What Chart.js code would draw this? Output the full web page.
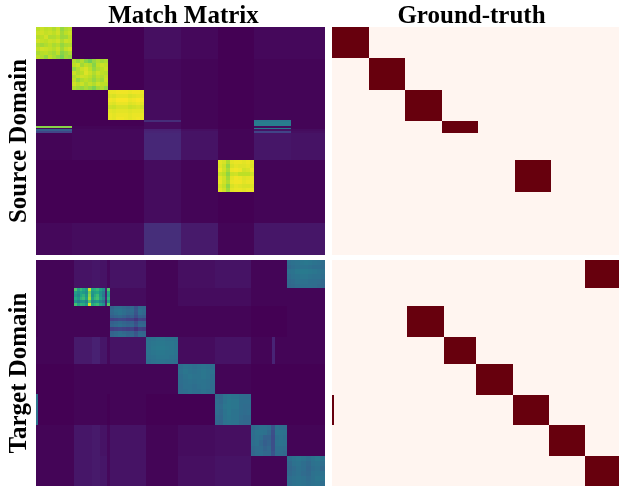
<!DOCTYPE html>
<html>
<head>
<meta charset="utf-8">
<title>Match Matrix</title>
<script src="https://cdn.jsdelivr.net/npm/chart.js@4/dist/chart.umd.min.js"></script>
<style>
  html, body { margin: 0; background: #fff; }
  #wrap { position: relative; width: 619px; height: 487px; overflow: hidden; }
  canvas { position: absolute; }
  #srcMatch { left: 0; top: 0; }
  #srcTruth { left: 332px; top: 0; }
  #tgtMatch { left: 0; top: 260px; }
  #tgtTruth { left: 332px; top: 260px; }
</style>
</head>
<body>
<div id="wrap">
  <canvas id="srcMatch" width="325" height="255"></canvas>
  <canvas id="srcTruth" width="287" height="255"></canvas>
  <canvas id="tgtMatch" width="325" height="226"></canvas>
  <canvas id="tgtTruth" width="287" height="226"></canvas>
</div>
<script>
// all sizes below are sample indices, 144 samples per axis
const SAMPLES = 144;

// source domain match scores (percent of the colour range)
const srcCols = [0, 18, 36, 54, 72, 90.5, 108.5, 127, 144];
const srcRows = [0, 20, 40, 59, 60, 62.5, 63.5, 64.5, 65.6, 66.8, 84, 104, 124, 144];
const srcScores = [
  [ 0,  0,  0,  4,  2,  0,  2,  2],
  [ 0,  0,  0,  2,  1,  0,  1,  1],
  [ 0,  0,  0,  3,  1,  0,  1,  1],
  [ 0,  0,  0, 13,  1,  0, 40,  1],
  [ 0,  0,  0,  3,  1,  0, 42,  1],
  [82,  1,  1,  3,  1,  0,  3,  1],
  [ 2,  1,  1,  3,  1,  0, 41,  1],
  [30,  2,  2,  9,  4,  1,  5,  3],
  [21,  2,  2, 10,  5,  1, 20,  4],
  [ 1,  2,  2, 11,  5,  1,  6,  5],
  [ 0,  0,  0,  3,  1,  0,  1,  1],
  [ 0,  0,  0,  3,  1,  0,  1,  1],
  [ 2,  3,  3, 13,  7,  1,  6,  6]
];

const srcBlockA = [
  [90, 92, 90, 91, 88, 92, 84, 88, 90],
  [92, 93, 91, 92, 90, 93, 86, 90, 92],
  [89, 90, 93, 88, 88, 90, 85, 86, 90],
  [93, 91, 90, 92, 91, 93, 88, 92, 91],
  [88, 86, 88, 90, 87, 89, 84, 87, 88],
  [91, 93, 92, 91, 89, 92, 86, 91, 93],
  [87, 89, 90, 88, 86, 90, 82, 85, 88],
  [90, 88, 84, 90, 87, 84, 80, 86, 84]
];
const srcBlockB = [
  [88, 84, 88, 82, 78, 84, 88, 86, 88],
  [90, 92, 86, 90, 88, 82, 90, 92, 91],
  [84, 88, 92, 94, 90, 84, 88, 90, 92],
  [92, 88, 90, 95, 92, 88, 92, 90, 89],
  [88, 91, 93, 92, 90, 86, 90, 88, 91],
  [90, 84, 88, 90, 88, 84, 88, 86, 92],
  [93, 90, 92, 88, 91, 88, 92, 90, 90],
  [88, 86, 84, 87, 84, 80, 86, 88, 84]
];
const srcBlockC = [
  [97, 97, 98, 98, 98, 97, 98, 98, 97],
  [95, 94, 96, 96, 96, 94, 95, 96, 96],
  [98, 97, 99, 99, 99, 97, 98, 99, 98],
  [96, 95, 97, 97, 97, 95, 96, 97, 96],
  [93, 92, 94, 94, 94, 92, 93, 94, 93],
  [96, 95, 96, 96, 96, 95, 96, 96, 96],
  [97, 96, 97, 97, 97, 96, 97, 97, 97],
  [97, 96, 98, 98, 97, 96, 97, 98, 97]
];
const srcBlockD = [
  [96, 94, 88, 96, 97, 97, 96, 97, 96],
  [95, 92, 84, 94, 96, 95, 95, 96, 95],
  [97, 93, 87, 97, 98, 97, 93, 94, 97],
  [92, 90, 83, 92, 93, 90, 90, 90, 93],
  [96, 93, 86, 96, 98, 97, 95, 96, 97],
  [97, 93, 88, 97, 98, 98, 96, 97, 97],
  [94, 91, 83, 94, 96, 95, 94, 94, 95],
  [96, 93, 86, 96, 97, 97, 96, 97, 97]
];
// [first row, last row, first col, last col, scores]
const srcBlocks = [
  [0, 20, 0, 18, srcBlockA],
  [20, 40, 18, 36, srcBlockB],
  [40, 59, 36, 54, srcBlockC],
  [84, 104, 90.5, 108.5, srcBlockD]
];

// target domain match scores
const tgtCols = [0, 1, 19, 28, 32, 35.4, 37, 55, 71, 89, 107, 117.5, 119, 125, 144];
const tgtRows = [0, 18, 29, 49, 66, 85.5, 105, 125, 144];
const tgtScores = [
  [1,  1,  5,  6,  5,  2,  5,  1,  4,  5,  1,  1,  1, 38],
  [1,  1,  5,  5,  5,  2,  3,  1,  3,  3,  1,  1,  1,  1],
  [0,  1,  1,  1,  1,  1, 36,  1,  1,  1,  0,  0,  0,  1],
  [1,  1,  7,  9,  6,  2,  5, 38,  3,  5,  1, 10,  1,  1],
  [0,  0,  1,  1,  1,  1,  1,  1, 38,  1,  0,  0,  0,  0],
  [38, 0,  1,  1,  1,  0,  1,  0,  0, 38,  0,  0,  0,  0],
  [1,  1,  6,  7,  5,  2,  5,  1,  3,  4, 36, 30, 36,  1],
  [1,  1,  6,  7,  6,  2,  5,  1,  4,  5,  1,  1,  1, 38]
];

const tgtBlockA = [
  [36, 37, 38, 39, 40, 39, 38, 37, 36],
  [34, 36, 37, 38, 38, 37, 36, 36, 35],
  [37, 38, 40, 41, 41, 40, 39, 38, 37],
  [35, 37, 38, 39, 39, 38, 37, 37, 36],
  [34, 35, 37, 37, 37, 36, 36, 35, 34],
  [33, 34, 35, 36, 36, 36, 35, 34, 33]
];
const tgtBlockB = [
  [72, 58, 66, 60, 52, 92, 60, 62, 66, 58, 50, 12, 72],
  [56, 50, 58, 54, 48, 78, 52, 56, 60, 50, 42, 10, 60],
  [52, 46, 60, 64, 52, 82, 50, 62, 68, 52, 40, 10, 58],
  [60, 52, 64, 68, 56, 86, 56, 66, 70, 56, 46, 12, 64],
  [50, 42, 50, 52, 44, 72, 46, 50, 54, 44, 38, 10, 54],
  [70, 58, 64, 62, 54, 94, 60, 64, 68, 58, 50, 12, 74]
];
const tgtBlockC = [
  [32, 35, 36, 34, 32, 34, 26, 34, 33],
  [34, 37, 38, 36, 34, 35, 27, 36, 34],
  [33, 36, 38, 36, 33, 34, 26, 35, 33],
  [30, 32, 33, 31, 28, 30, 23, 30, 29],
  [19, 20, 22, 21, 19, 19, 15, 20, 19],
  [30, 32, 34, 32, 30, 31, 24, 32, 31],
  [32, 34, 36, 34, 32, 33, 26, 34, 33],
  [18, 19, 20, 19, 18, 19, 14, 19, 18],
  [31, 33, 35, 33, 31, 32, 26, 33, 32],
  [32, 34, 36, 35, 32, 33, 27, 34, 33]
];
const tgtBlockD = [
  [37, 38, 39, 39, 38, 38, 37],
  [38, 39, 40, 40, 39, 39, 38],
  [38, 40, 41, 41, 40, 39, 38],
  [38, 39, 40, 40, 39, 39, 38],
  [37, 38, 39, 39, 39, 38, 37],
  [36, 37, 38, 38, 37, 37, 36]
];
const tgtBlockE = [
  [36, 38, 37, 36, 37, 38, 37, 36],
  [37, 39, 38, 37, 38, 39, 38, 37],
  [36, 38, 39, 38, 38, 39, 38, 36],
  [36, 37, 38, 37, 38, 38, 37, 36],
  [35, 37, 37, 36, 37, 38, 37, 35],
  [35, 36, 37, 36, 36, 37, 36, 35]
];
const tgtBlockF = [
  [34, 33, 38, 39, 38, 38, 36, 35, 35],
  [35, 34, 38, 40, 39, 39, 36, 36, 36],
  [36, 35, 39, 40, 39, 39, 36, 35, 35],
  [35, 34, 38, 40, 38, 38, 36, 35, 36],
  [34, 33, 38, 39, 38, 38, 35, 34, 34],
  [33, 32, 37, 38, 37, 37, 34, 33, 33]
];
const tgtBlockG = [
  [34, 36, 37, 37, 36, 26, 37, 36, 35],
  [36, 38, 38, 37, 34, 24, 38, 38, 37],
  [35, 37, 36, 31, 31, 23, 36, 37, 36],
  [36, 37, 34, 30, 32, 24, 37, 38, 37],
  [34, 35, 35, 32, 34, 24, 36, 36, 35],
  [33, 35, 36, 34, 34, 26, 35, 35, 34]
];
const tgtBlockH = [
  [36, 38, 39, 38, 36, 38, 40, 38],
  [34, 37, 38, 36, 34, 37, 38, 36],
  [33, 35, 37, 36, 33, 36, 37, 34],
  [34, 36, 37, 35, 34, 37, 38, 37],
  [36, 37, 38, 37, 35, 37, 39, 38],
  [35, 37, 38, 37, 36, 37, 38, 36]
];
const tgtBlocks = [
  [0, 18, 125, 144, tgtBlockA],
  [18, 29, 19, 37, tgtBlockB],
  [29, 49, 37, 55, tgtBlockC],
  [49, 66, 55, 71, tgtBlockD],
  [66, 85.5, 71, 89, tgtBlockE],
  [85.5, 105, 89, 107, tgtBlockF],
  [105, 125, 107, 125, tgtBlockG],
  [125, 144, 125, 144, tgtBlockH]
];

// ground truth assignments
const srcTruthCols = [0, 18.4, 36.6, 55, 73.3, 91.7, 110, 144];
const srcTruthRows = [0, 19.8, 39.6, 59.2, 67, 84, 104.2, 144];
const srcTruth = [
  [1, 0, 0, 0, 0, 0, 0],
  [0, 1, 0, 0, 0, 0, 0],
  [0, 0, 1, 0, 0, 0, 0],
  [0, 0, 0, 1, 0, 0, 0],
  [0, 0, 0, 0, 0, 0, 0],
  [0, 0, 0, 0, 0, 1, 0],
  [0, 0, 0, 0, 0, 0, 0]
];
const tgtTruthCols = [0, 1.2, 37.7, 56, 72.4, 90.6, 109, 127, 144];
const tgtTruthRows = [0, 18, 29, 48.8, 66.3, 85.8, 105.4, 125, 144];
const tgtTruth = [
  [0, 0, 0, 0, 0, 0, 0, 1],
  [0, 0, 0, 0, 0, 0, 0, 0],
  [0, 0, 1, 0, 0, 0, 0, 0],
  [0, 0, 0, 1, 0, 0, 0, 0],
  [0, 0, 0, 0, 1, 0, 0, 0],
  [1, 0, 0, 0, 0, 1, 0, 0],
  [0, 0, 0, 0, 0, 0, 1, 0],
  [0, 0, 0, 0, 0, 0, 0, 1]
];

const VIRIDIS = ['#440154', '#482475', '#414487', '#355f8d', '#2a788e', '#21918c', '#22a884', '#44bf70', '#7ad151', '#bddf26', '#fde725'];
const REDS = ['#fff5f0', '#67000d'];

function hexToRgb(hex) {
  return [1, 3, 5].map(i => parseInt(hex.slice(i, i + 2), 16));
}

function colorAt(stops, t) {
  const pos = Math.min(Math.max(t, 0), 1) * (stops.length - 1);
  const i = Math.min(Math.floor(pos), stops.length - 2);
  const a = hexToRgb(stops[i]);
  const b = hexToRgb(stops[i + 1]);
  const rgb = a.map((c, k) => Math.round(c + (b[k] - c) * (pos - i)));
  return `rgb(${rgb.join(',')})`;
}

// one point per cell: x,y is the cell corner, x2,y2 the opposite corner
function gridCells(cols, rows, scores) {
  const cells = [];
  scores.forEach((line, r) => line.forEach((v, c) => {
    cells.push({ x: cols[c], y: rows[r], x2: cols[c + 1], y2: rows[r + 1], v });
  }));
  return cells;
}

function blockCells([r0, r1, c0, c1, scores]) {
  const cells = [];
  const dy = (r1 - r0) / scores.length;
  const dx = (c1 - c0) / scores[0].length;
  scores.forEach((line, r) => line.forEach((v, c) => {
    cells.push({ x: c0 + c * dx, y: r0 + r * dy, x2: c0 + (c + 1) * dx, y2: r0 + (r + 1) * dy, v });
  }));
  return cells;
}

const heatCells = {
  id: 'heatCells',
  afterLayout(chart, args, opts) {
    // the titles do not sit quite over the middle of their panels
    if (chart.titleBlock && opts.titleShift) {
      chart.titleBlock.left += opts.titleShift;
      chart.titleBlock.right += opts.titleShift;
    }
  },
  beforeDatasetsDraw(chart) {
    const { ctx, scales: { x, y } } = chart;
    chart.data.datasets.forEach(ds => {
      ds.data.forEach(cell => {
        const left = Math.round(x.getPixelForValue(cell.x));
        const right = Math.round(x.getPixelForValue(cell.x2));
        const top = Math.round(y.getPixelForValue(cell.y));
        const bottom = Math.round(y.getPixelForValue(cell.y2));
        ctx.fillStyle = colorAt(ds.cellColors, cell.v / ds.cellMax);
        ctx.fillRect(left, top, right - left, bottom - top);
      });
    });
  }
};

function cellSet(data, cellColors, cellMax) {
  return { type: 'scatter', data, cellColors, cellMax, pointRadius: 0, pointHitRadius: 0 };
}

const serif = { family: '"Liberation Serif", serif', size: 25, weight: 'bold', lineHeight: 1 };

function drawPanel(id, datasets, title, yTitle, titleShift) {
  new Chart(document.getElementById(id), {
    type: 'scatter',
    data: { datasets },
    plugins: [heatCells],
    options: {
      responsive: false,
      animation: false,
      events: [],
      layout: { padding: 0, autoPadding: false },
      plugins: {
        legend: { display: false },
        tooltip: { enabled: false },
        heatCells: { titleShift },
        title: {
          display: !!title,
          text: title,
          color: '#000',
          font: serif,
          fullSize: false,
          padding: { top: 4, bottom: -2 }
        }
      },
      scales: {
        x: { type: 'linear', display: false, min: 0, max: SAMPLES },
        y: {
          type: 'linear',
          display: !!yTitle,
          reverse: true,
          min: 0,
          max: SAMPLES,
          grid: { display: false, drawTicks: false },
          border: { display: false },
          ticks: { display: false },
          title: { display: !!yTitle, text: yTitle, color: '#000', font: serif, padding: { top: 7, bottom: 4 } },
          afterFit: s => { if (yTitle) s.width = 36; }
        }
      }
    }
  });
}

drawPanel('srcMatch', [
  cellSet(gridCells(srcCols, srcRows, srcScores), VIRIDIS, 100),
  ...srcBlocks.map(b => cellSet(blockCells(b), VIRIDIS, 100))
], 'Match Matrix', 'Source Domain', 3);

drawPanel('srcTruth', [cellSet(gridCells(srcTruthCols, srcTruthRows, srcTruth), REDS, 1)], 'Ground-truth', '', -4);

drawPanel('tgtMatch', [
  cellSet(gridCells(tgtCols, tgtRows, tgtScores), VIRIDIS, 100),
  ...tgtBlocks.map(b => cellSet(blockCells(b), VIRIDIS, 100))
], '', 'Target Domain');

drawPanel('tgtTruth', [cellSet(gridCells(tgtTruthCols, tgtTruthRows, tgtTruth), REDS, 1)], '');
</script>
</body>
</html>
